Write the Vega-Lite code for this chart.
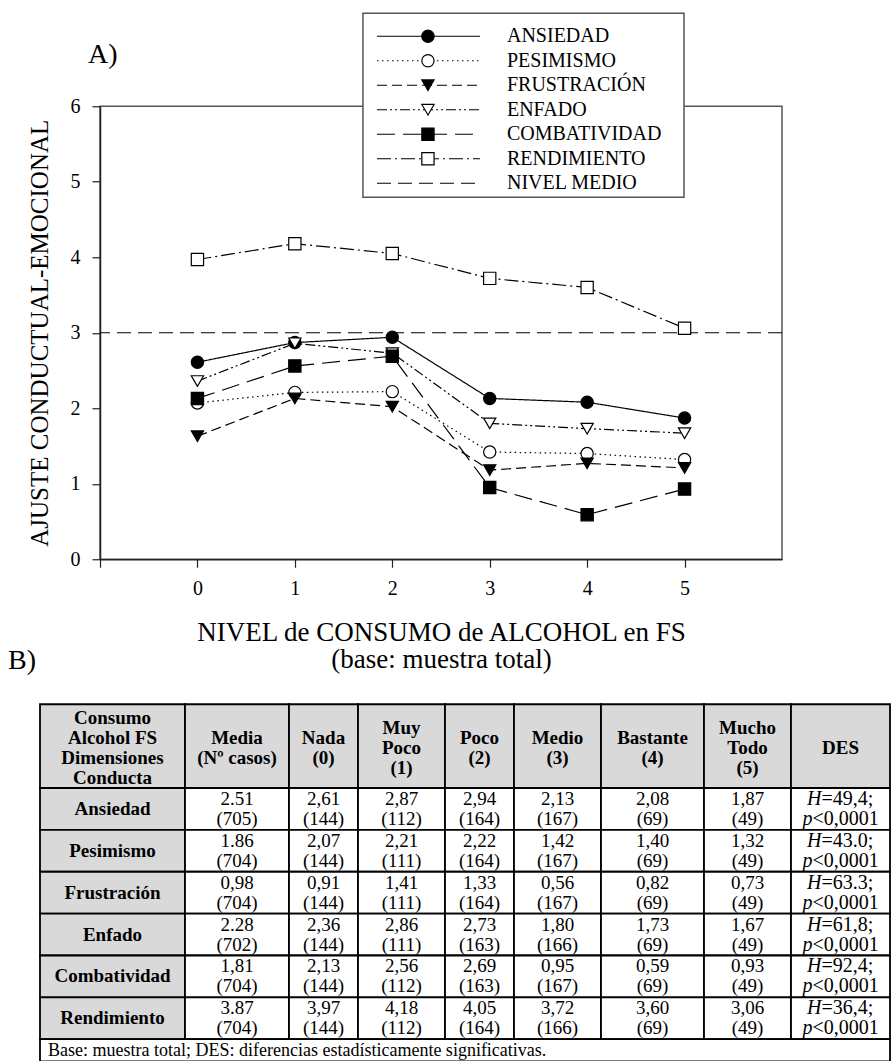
{
  "$schema": "https://vega.github.io/schema/vega-lite/v6.json",
  "autosize": {"type": "pad"},
  "padding": {"left": 8, "top": 11.25, "right": 0, "bottom": 0},
  "bounds": "flush",
  "spacing": 145,
  "config": {
    "font": "Liberation Serif",
    "view": {"stroke": "#555555", "strokeWidth": 1.5},
    "axis": {"grid": false, "domainColor": "#222222", "domainWidth": 1.5, "tickColor": "#222222", "tickWidth": 1.2, "labelFont": "Liberation Serif", "titleFont": "Liberation Serif", "labelColor": "black", "titleColor": "black", "titleFontWeight": "normal", "labelFlush": false, "labelOverlap": false}
  },
  "datasets": {
    "series": [
      {"series": "ANSIEDAD", "nivel": 0, "valor": 2.61}, {"series": "ANSIEDAD", "nivel": 1, "valor": 2.87}, {"series": "ANSIEDAD", "nivel": 2, "valor": 2.94}, {"series": "ANSIEDAD", "nivel": 3, "valor": 2.13}, {"series": "ANSIEDAD", "nivel": 4, "valor": 2.08}, {"series": "ANSIEDAD", "nivel": 5, "valor": 1.87},
      {"series": "PESIMISMO", "nivel": 0, "valor": 2.07}, {"series": "PESIMISMO", "nivel": 1, "valor": 2.21}, {"series": "PESIMISMO", "nivel": 2, "valor": 2.22}, {"series": "PESIMISMO", "nivel": 3, "valor": 1.42}, {"series": "PESIMISMO", "nivel": 4, "valor": 1.40}, {"series": "PESIMISMO", "nivel": 5, "valor": 1.32},
      {"series": "FRUSTRACIÓN", "nivel": 0, "valor": 1.63}, {"series": "FRUSTRACIÓN", "nivel": 1, "valor": 2.13}, {"series": "FRUSTRACIÓN", "nivel": 2, "valor": 2.02}, {"series": "FRUSTRACIÓN", "nivel": 3, "valor": 1.18}, {"series": "FRUSTRACIÓN", "nivel": 4, "valor": 1.27}, {"series": "FRUSTRACIÓN", "nivel": 5, "valor": 1.21},
      {"series": "ENFADO", "nivel": 0, "valor": 2.36}, {"series": "ENFADO", "nivel": 1, "valor": 2.86}, {"series": "ENFADO", "nivel": 2, "valor": 2.73}, {"series": "ENFADO", "nivel": 3, "valor": 1.80}, {"series": "ENFADO", "nivel": 4, "valor": 1.73}, {"series": "ENFADO", "nivel": 5, "valor": 1.67},
      {"series": "COMBATIVIDAD", "nivel": 0, "valor": 2.13}, {"series": "COMBATIVIDAD", "nivel": 1, "valor": 2.56}, {"series": "COMBATIVIDAD", "nivel": 2, "valor": 2.69}, {"series": "COMBATIVIDAD", "nivel": 3, "valor": 0.95}, {"series": "COMBATIVIDAD", "nivel": 4, "valor": 0.59}, {"series": "COMBATIVIDAD", "nivel": 5, "valor": 0.93},
      {"series": "RENDIMIENTO", "nivel": 0, "valor": 3.97}, {"series": "RENDIMIENTO", "nivel": 1, "valor": 4.18}, {"series": "RENDIMIENTO", "nivel": 2, "valor": 4.05}, {"series": "RENDIMIENTO", "nivel": 3, "valor": 3.72}, {"series": "RENDIMIENTO", "nivel": 4, "valor": 3.60}, {"series": "RENDIMIENTO", "nivel": 5, "valor": 3.06}
    ],
    "legend": [
      {"series": "ANSIEDAD"}, {"series": "PESIMISMO"}, {"series": "FRUSTRACIÓN"}, {"series": "ENFADO"}, {"series": "COMBATIVIDAD"}, {"series": "RENDIMIENTO"}, {"series": "NIVEL MEDIO"}
    ],
    "cols": [
      {"c": "dim", "x0": 0, "x1": 145, "xc": 72.5},
      {"c": "media", "x0": 145, "x1": 249, "xc": 197},
      {"c": "nada", "x0": 249, "x1": 318, "xc": 283.5},
      {"c": "muy", "x0": 318, "x1": 405, "xc": 361.5},
      {"c": "poco", "x0": 405, "x1": 474, "xc": 439.5},
      {"c": "medio", "x0": 474, "x1": 561, "xc": 517.5},
      {"c": "bastante", "x0": 561, "x1": 664, "xc": 612.5},
      {"c": "mucho", "x0": 664, "x1": 751, "xc": 707.5},
      {"c": "des", "x0": 751, "x1": 850, "xc": 800.5},
      {"c": "all", "x0": 0, "x1": 850, "xc": 425}
    ],
    "rows": [
      {"r": "head", "y0": 0, "y1": 2, "yc": 1.05},
      {"r": "ansiedad", "y0": 2, "y1": 3, "yc": 2.5},
      {"r": "pesimismo", "y0": 3, "y1": 4, "yc": 3.5},
      {"r": "frustracion", "y0": 4, "y1": 5, "yc": 4.5},
      {"r": "enfado", "y0": 5, "y1": 6, "yc": 5.5},
      {"r": "combatividad", "y0": 6, "y1": 7, "yc": 6.5},
      {"r": "rendimiento", "y0": 7, "y1": 8, "yc": 7.5},
      {"r": "foot", "y0": 8, "y1": 8.53, "yc": 8.275}
    ],
    "cells": [
      {"r": "head", "c": "dim", "kind": "head", "t": ["Consumo", "Alcohol FS", "Dimensiones", "Conducta"]},
      {"r": "head", "c": "media", "kind": "head", "t": ["Media", "(Nº casos)"]},
      {"r": "head", "c": "nada", "kind": "head", "t": ["Nada", "(0)"]},
      {"r": "head", "c": "muy", "kind": "head", "t": ["Muy", "Poco", "(1)"]},
      {"r": "head", "c": "poco", "kind": "head", "t": ["Poco", "(2)"]},
      {"r": "head", "c": "medio", "kind": "head", "t": ["Medio", "(3)"]},
      {"r": "head", "c": "bastante", "kind": "head", "t": ["Bastante", "(4)"]},
      {"r": "head", "c": "mucho", "kind": "head", "t": ["Mucho", "Todo", "(5)"]},
      {"r": "head", "c": "des", "kind": "head", "t": ["DES"]},

      {"r": "ansiedad", "c": "dim", "kind": "label", "t": ["Ansiedad"]},
      {"r": "ansiedad", "c": "media", "kind": "val", "t": ["2.51", "(705)"]},
      {"r": "ansiedad", "c": "nada", "kind": "val", "t": ["2,61", "(144)"]},
      {"r": "ansiedad", "c": "muy", "kind": "val", "t": ["2,87", "(112)"]},
      {"r": "ansiedad", "c": "poco", "kind": "val", "t": ["2,94", "(164)"]},
      {"r": "ansiedad", "c": "medio", "kind": "val", "t": ["2,13", "(167)"]},
      {"r": "ansiedad", "c": "bastante", "kind": "val", "t": ["2,08", "(69)"]},
      {"r": "ansiedad", "c": "mucho", "kind": "val", "t": ["1,87", "(49)"]},
      {"r": "ansiedad", "c": "des", "kind": "des", "d1": "=49,4;", "d2": "<0,0001"},

      {"r": "pesimismo", "c": "dim", "kind": "label", "t": ["Pesimismo"]},
      {"r": "pesimismo", "c": "media", "kind": "val", "t": ["1.86", "(704)"]},
      {"r": "pesimismo", "c": "nada", "kind": "val", "t": ["2,07", "(144)"]},
      {"r": "pesimismo", "c": "muy", "kind": "val", "t": ["2,21", "(111)"]},
      {"r": "pesimismo", "c": "poco", "kind": "val", "t": ["2,22", "(164)"]},
      {"r": "pesimismo", "c": "medio", "kind": "val", "t": ["1,42", "(167)"]},
      {"r": "pesimismo", "c": "bastante", "kind": "val", "t": ["1,40", "(69)"]},
      {"r": "pesimismo", "c": "mucho", "kind": "val", "t": ["1,32", "(49)"]},
      {"r": "pesimismo", "c": "des", "kind": "des", "d1": "=43.0;", "d2": "<0,0001"},

      {"r": "frustracion", "c": "dim", "kind": "label", "t": ["Frustración"]},
      {"r": "frustracion", "c": "media", "kind": "val", "t": ["0,98", "(704)"]},
      {"r": "frustracion", "c": "nada", "kind": "val", "t": ["0,91", "(144)"]},
      {"r": "frustracion", "c": "muy", "kind": "val", "t": ["1,41", "(111)"]},
      {"r": "frustracion", "c": "poco", "kind": "val", "t": ["1,33", "(164)"]},
      {"r": "frustracion", "c": "medio", "kind": "val", "t": ["0,56", "(167)"]},
      {"r": "frustracion", "c": "bastante", "kind": "val", "t": ["0,82", "(69)"]},
      {"r": "frustracion", "c": "mucho", "kind": "val", "t": ["0,73", "(49)"]},
      {"r": "frustracion", "c": "des", "kind": "des", "d1": "=63.3;", "d2": "<0,0001"},

      {"r": "enfado", "c": "dim", "kind": "label", "t": ["Enfado"]},
      {"r": "enfado", "c": "media", "kind": "val", "t": ["2.28", "(702)"]},
      {"r": "enfado", "c": "nada", "kind": "val", "t": ["2,36", "(144)"]},
      {"r": "enfado", "c": "muy", "kind": "val", "t": ["2,86", "(111)"]},
      {"r": "enfado", "c": "poco", "kind": "val", "t": ["2,73", "(163)"]},
      {"r": "enfado", "c": "medio", "kind": "val", "t": ["1,80", "(166)"]},
      {"r": "enfado", "c": "bastante", "kind": "val", "t": ["1,73", "(69)"]},
      {"r": "enfado", "c": "mucho", "kind": "val", "t": ["1,67", "(49)"]},
      {"r": "enfado", "c": "des", "kind": "des", "d1": "=61,8;", "d2": "<0,0001"},

      {"r": "combatividad", "c": "dim", "kind": "label", "t": ["Combatividad"]},
      {"r": "combatividad", "c": "media", "kind": "val", "t": ["1,81", "(704)"]},
      {"r": "combatividad", "c": "nada", "kind": "val", "t": ["2,13", "(144)"]},
      {"r": "combatividad", "c": "muy", "kind": "val", "t": ["2,56", "(112)"]},
      {"r": "combatividad", "c": "poco", "kind": "val", "t": ["2,69", "(163)"]},
      {"r": "combatividad", "c": "medio", "kind": "val", "t": ["0,95", "(167)"]},
      {"r": "combatividad", "c": "bastante", "kind": "val", "t": ["0,59", "(69)"]},
      {"r": "combatividad", "c": "mucho", "kind": "val", "t": ["0,93", "(49)"]},
      {"r": "combatividad", "c": "des", "kind": "des", "d1": "=92,4;", "d2": "<0,0001"},

      {"r": "rendimiento", "c": "dim", "kind": "label", "t": ["Rendimiento"]},
      {"r": "rendimiento", "c": "media", "kind": "val", "t": ["3.87", "(704)"]},
      {"r": "rendimiento", "c": "nada", "kind": "val", "t": ["3,97", "(144)"]},
      {"r": "rendimiento", "c": "muy", "kind": "val", "t": ["4,18", "(112)"]},
      {"r": "rendimiento", "c": "poco", "kind": "val", "t": ["4,05", "(164)"]},
      {"r": "rendimiento", "c": "medio", "kind": "val", "t": ["3,72", "(166)"]},
      {"r": "rendimiento", "c": "bastante", "kind": "val", "t": ["3,60", "(69)"]},
      {"r": "rendimiento", "c": "mucho", "kind": "val", "t": ["3,06", "(49)"]},
      {"r": "rendimiento", "c": "des", "kind": "des", "d1": "=36,4;", "d2": "<0,0001"},

      {"r": "foot", "c": "all", "kind": "foot"}
    ]
  },
  "vconcat": [
    {
      "width": 682,
      "height": 453,
      "layer": [
        {
          "layer": [
            {
              "data": {"values": [{}]},
              "mark": {"type": "rule", "strokeDash": [14, 7], "strokeWidth": 1.2, "color": "black"},
              "encoding": {"y": {"datum": 3, "type": "quantitative"}}
            },
            {
              "data": {"name": "series"},
              "mark": {"type": "line", "strokeWidth": 1.2, "color": "black"},
              "encoding": {
                "x": {"field": "nivel", "type": "quantitative", "scale": {"domain": [-1, 6], "nice": false, "zero": false},
                  "axis": {"values": [-1, 0, 1, 2, 3, 4, 5], "format": "d", "labelExpr": "datum.value < 0 ? '' : datum.label", "tickSize": 8, "labelPadding": 11, "labelFontSize": 20, "title": ["NIVEL de CONSUMO de ALCOHOL en FS", "(base: muestra total)"], "titleFontSize": 27, "titleLineHeight": 27, "titlePadding": 21}},
                "y": {"field": "valor", "type": "quantitative", "scale": {"domain": [0, 6], "nice": false, "zero": false},
                  "axis": {"values": [0, 1, 2, 3, 4, 5, 6], "format": "d", "tickSize": 8, "labelPadding": 12, "labelFontSize": 20, "title": "AJUSTE CONDUCTUAL-EMOCIONAL", "titleFontSize": 25, "titlePadding": 18}},
                "strokeDash": {"field": "series", "type": "nominal",
                  "scale": {"domain": ["ANSIEDAD", "PESIMISMO", "FRUSTRACIÓN", "ENFADO", "COMBATIVIDAD", "RENDIMIENTO", "NIVEL MEDIO"],
                    "range": [[1, 0], [1.5, 3.5], [10, 5], [10, 3, 2, 3, 2, 3], [18, 8], [14, 4, 2, 4], [14, 7]]},
                  "legend": null}
              }
            },
            {
              "data": {"name": "series"},
              "mark": {"type": "point", "filled": true, "size": 150, "stroke": "black", "strokeWidth": 1.2, "opacity": 1},
              "encoding": {
                "x": {"field": "nivel", "type": "quantitative"},
                "y": {"field": "valor", "type": "quantitative"},
                "shape": {"field": "series", "type": "nominal",
                  "scale": {"domain": ["ANSIEDAD", "PESIMISMO", "FRUSTRACIÓN", "ENFADO", "COMBATIVIDAD", "RENDIMIENTO"],
                    "range": ["circle", "circle", "triangle-down", "triangle-down", "square", "square"]}, "legend": null},
                "fill": {"field": "series", "type": "nominal",
                  "scale": {"domain": ["ANSIEDAD", "PESIMISMO", "FRUSTRACIÓN", "ENFADO", "COMBATIVIDAD", "RENDIMIENTO"],
                    "range": ["black", "white", "black", "white", "black", "white"]}, "legend": null}
              }
            },
            {
              "data": {"values": [{}]},
              "mark": {"type": "rect", "fill": "white", "stroke": "#555555", "strokeWidth": 1.5},
              "encoding": {
                "x": {"datum": 1.699, "type": "quantitative"}, "x2": {"datum": 4.994},
                "y": {"datum": 7.232, "type": "quantitative"}, "y2": {"datum": 4.795}
              }
            },
            {
              "data": {"values": [{}]},
              "mark": {"type": "text", "text": "A)", "fontSize": 28, "align": "left", "baseline": "alphabetic", "font": "Liberation Serif", "color": "black"},
              "encoding": {"x": {"datum": -1.123, "type": "quantitative"}, "y": {"datum": 6.57, "type": "quantitative"}}
            }
          ]
        },
        {
          "data": {"name": "legend"},
          "layer": [
            {
              "mark": {"type": "rule", "strokeWidth": 1.2, "color": "black"},
              "encoding": {
                "x": {"datum": 1.843, "type": "quantitative"}, "x2": {"datum": 2.9},
                "y": {"field": "series", "type": "nominal",
                  "scale": {"type": "point", "domain": ["ANSIEDAD", "PESIMISMO", "FRUSTRACIÓN", "ENFADO", "COMBATIVIDAD", "RENDIMIENTO", "NIVEL MEDIO"], "range": [-70, 77], "padding": 0},
                  "axis": null},
                "strokeDash": {"field": "series", "type": "nominal", "legend": null}
              }
            },
            {
              "transform": [{"filter": "datum.series !== 'NIVEL MEDIO'"}],
              "mark": {"type": "point", "filled": true, "size": 150, "stroke": "black", "strokeWidth": 1.2, "opacity": 1},
              "encoding": {
                "x": {"datum": 2.366, "type": "quantitative"},
                "y": {"field": "series", "type": "nominal"},
                "shape": {"field": "series", "type": "nominal", "legend": null},
                "fill": {"field": "series", "type": "nominal", "legend": null}
              }
            },
            {
              "mark": {"type": "text", "align": "left", "baseline": "middle", "fontSize": 20, "font": "Liberation Serif", "color": "black"},
              "encoding": {
                "x": {"datum": 3.177, "type": "quantitative"},
                "y": {"field": "series", "type": "nominal"},
                "text": {"field": "series", "type": "nominal"}
              }
            }
          ]
        }
      ],
      "resolve": {"scale": {"y": "independent"}}
    },
    {
      "width": 790,
      "height": 358,
      "view": {"stroke": null},
      "layer": [
        {
          "data": {"name": "cells"},
          "transform": [
            {"lookup": "c", "from": {"data": {"name": "cols"}, "key": "c", "fields": ["x0", "x1", "xc"]}},
            {"lookup": "r", "from": {"data": {"name": "rows"}, "key": "r", "fields": ["y0", "y1", "yc"]}}
          ],
          "layer": [
            {
              "mark": {"type": "rect", "stroke": "black", "strokeWidth": 1.8},
              "encoding": {
                "x": {"field": "x0", "type": "quantitative", "scale": {"domain": [60, 850], "nice": false, "zero": false}, "axis": null},
                "x2": {"field": "x1"},
                "y": {"field": "y0", "type": "quantitative", "scale": {"domain": [0, 8.55], "nice": false, "zero": false, "reverse": true}, "axis": null},
                "y2": {"field": "y1"},
                "fill": {"condition": {"test": "datum.kind === 'head' || datum.kind === 'label'", "value": "#d9d9d9"}, "value": "#ffffff"}
              }
            },
            {
              "transform": [{"filter": "(datum.kind === 'head' || datum.kind === 'label') && datum.t.length === 1"}],
              "mark": {"type": "text", "fontWeight": "bold", "fontSize": 19, "lineHeight": 20, "baseline": "middle", "align": "center", "font": "Liberation Serif", "color": "black"},
              "encoding": {"x": {"field": "xc", "type": "quantitative"}, "y": {"field": "yc", "type": "quantitative"}, "text": {"field": "t", "type": "nominal"}}
            },
            {
              "transform": [{"filter": "datum.kind === 'head' && datum.t.length === 2"}],
              "mark": {"type": "text", "fontWeight": "bold", "fontSize": 19, "lineHeight": 20, "baseline": "middle", "align": "center", "dy": -10, "font": "Liberation Serif", "color": "black"},
              "encoding": {"x": {"field": "xc", "type": "quantitative"}, "y": {"field": "yc", "type": "quantitative"}, "text": {"field": "t", "type": "nominal"}}
            },
            {
              "transform": [{"filter": "datum.kind === 'head' && datum.t.length === 3"}],
              "mark": {"type": "text", "fontWeight": "bold", "fontSize": 19, "lineHeight": 20, "baseline": "middle", "align": "center", "dy": -20, "font": "Liberation Serif", "color": "black"},
              "encoding": {"x": {"field": "xc", "type": "quantitative"}, "y": {"field": "yc", "type": "quantitative"}, "text": {"field": "t", "type": "nominal"}}
            },
            {
              "transform": [{"filter": "datum.kind === 'head' && datum.t.length === 4"}],
              "mark": {"type": "text", "fontWeight": "bold", "fontSize": 19, "lineHeight": 20, "baseline": "middle", "align": "center", "dy": -30, "font": "Liberation Serif", "color": "black"},
              "encoding": {"x": {"field": "xc", "type": "quantitative"}, "y": {"field": "yc", "type": "quantitative"}, "text": {"field": "t", "type": "nominal"}}
            },
            {
              "transform": [{"filter": "datum.kind === 'val'"}],
              "mark": {"type": "text", "fontSize": 19, "lineHeight": 20, "baseline": "middle", "align": "center", "dy": -10, "font": "Liberation Serif", "color": "black"},
              "encoding": {"x": {"field": "xc", "type": "quantitative"}, "y": {"field": "yc", "type": "quantitative"}, "text": {"field": "t", "type": "nominal"}}
            },
            {
              "transform": [{"filter": "datum.kind === 'des'"}],
              "mark": {"type": "text", "text": "H", "fontStyle": "italic", "fontSize": 20, "baseline": "middle", "align": "right", "dx": -19, "dy": -10, "font": "Liberation Serif", "color": "black"},
              "encoding": {"x": {"field": "xc", "type": "quantitative"}, "y": {"field": "yc", "type": "quantitative"}}
            },
            {
              "transform": [{"filter": "datum.kind === 'des'"}],
              "mark": {"type": "text", "fontSize": 20, "baseline": "middle", "align": "left", "dx": -19, "dy": -10, "font": "Liberation Serif", "color": "black"},
              "encoding": {"x": {"field": "xc", "type": "quantitative"}, "y": {"field": "yc", "type": "quantitative"}, "text": {"field": "d1", "type": "nominal"}}
            },
            {
              "transform": [{"filter": "datum.kind === 'des'"}],
              "mark": {"type": "text", "text": "p", "fontStyle": "italic", "fontSize": 20, "baseline": "middle", "align": "right", "dx": -28, "dy": 10, "font": "Liberation Serif", "color": "black"},
              "encoding": {"x": {"field": "xc", "type": "quantitative"}, "y": {"field": "yc", "type": "quantitative"}}
            },
            {
              "transform": [{"filter": "datum.kind === 'des'"}],
              "mark": {"type": "text", "fontSize": 20, "baseline": "middle", "align": "left", "dx": -28, "dy": 10, "font": "Liberation Serif", "color": "black"},
              "encoding": {"x": {"field": "xc", "type": "quantitative"}, "y": {"field": "yc", "type": "quantitative"}, "text": {"field": "d2", "type": "nominal"}}
            }
          ]
        },
        {
          "data": {"values": [{"nota": "Base: muestra total; DES: diferencias estadísticamente significativas."}]},
          "mark": {"type": "text", "fontSize": 18, "baseline": "middle", "align": "left", "font": "Liberation Serif", "color": "black"},
          "encoding": {"x": {"datum": 8, "type": "quantitative"}, "y": {"datum": 8.275, "type": "quantitative"}, "text": {"field": "nota", "type": "nominal"}}
        },
        {
          "data": {"values": [{}]},
          "mark": {"type": "text", "text": "B)", "fontSize": 28, "baseline": "alphabetic", "align": "left", "font": "Liberation Serif", "color": "black"},
          "encoding": {"x": {"datum": -32, "type": "quantitative"}, "y": {"datum": -0.836, "type": "quantitative"}}
        }
      ]
    }
  ]
}
